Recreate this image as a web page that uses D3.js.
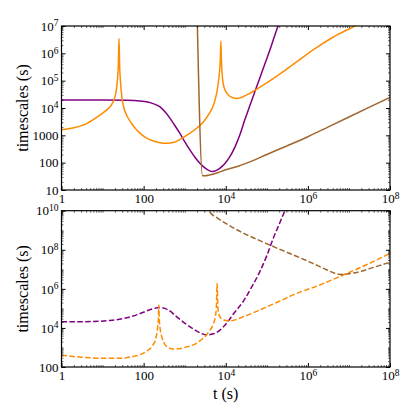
<!DOCTYPE html>
<html>
<head>
<meta charset="utf-8">
<script src="https://cdn.jsdelivr.net/npm/d3@7"></script>
<style>
  body { margin: 0; background: #fff; }
  svg text { font-family: "Liberation Serif", "Times New Roman", "DejaVu Serif", serif; }
</style>
</head>
<body>
<svg id="chart" width="415" height="416"></svg>
<script>
// Values, in decades: [log10 t, log10 timescale]
const purpleSolid = [[0, 4.29], [1, 4.29], [1.6, 4.28], [1.9, 4.26], [2.1, 4.22], [2.25, 4.15], [2.4, 4.04],
  [2.52, 3.86], [2.64, 3.63], [2.76, 3.36], [2.88, 3.08], [3.0, 2.77], [3.13, 2.46], [3.25, 2.2], [3.37, 1.98],
  [3.5, 1.8], [3.61, 1.7], [3.68, 1.68], [3.76, 1.71], [3.86, 1.8], [3.98, 1.97], [4.1, 2.22], [4.22, 2.56],
  [4.34, 3.0], [4.46, 3.55], [4.59, 4.1], [4.71, 4.6], [4.83, 5.1], [4.95, 5.6], [5.07, 6.1], [5.17, 6.55],
  [5.27, 7.0], [5.35, 7.4]]

const orangeSolid = [[0, 3.2], [0.3, 3.28], [0.6, 3.42], [0.9, 3.7], [1.1, 3.93], [1.2, 4.08], [1.3, 4.4],
  [1.36, 5.0], [1.385, 5.6], [1.4, 6.55], [1.415, 5.6], [1.44, 4.9], [1.47, 4.4], [1.52, 4.0], [1.6, 3.7],
  [1.7, 3.45], [1.8, 3.25], [1.91, 3.08], [2.05, 2.92], [2.2, 2.81], [2.4, 2.73], [2.56, 2.71], [2.75, 2.75],
  [2.9, 2.86], [3.1, 3.05], [3.3, 3.27], [3.45, 3.48], [3.6, 3.8], [3.7, 4.1], [3.78, 4.55], [3.84, 5.2],
  [3.865, 5.7], [3.88, 6.45], [3.895, 5.7], [3.92, 5.1], [3.96, 4.75], [4.05, 4.5], [4.15, 4.39], [4.26, 4.35],
  [4.4, 4.4], [4.6, 4.55], [5.0, 4.92], [5.4, 5.33], [5.8, 5.77], [6.2, 6.2], [6.6, 6.58], [7.14, 7.0], [7.6, 7.4]]

const brownSolid = [[3.3, 7.6], [3.435, 1.52], [3.5, 1.52], [3.6, 1.55], [3.8, 1.63], [4.0, 1.74], [4.3, 1.87],
  [4.6, 2.04], [5.0, 2.3], [5.5, 2.62], [6.0, 2.95], [6.5, 3.31], [7.0, 3.67], [7.5, 4.03], [8.0, 4.39]]

const purpleDashed = [[0, 4.32], [0.5, 4.32], [0.9, 4.34], [1.18, 4.38], [1.59, 4.52], [1.9, 4.72], [2.15, 4.93],
  [2.4, 5.04], [2.6, 4.92], [2.8, 4.58], [3.0, 4.25], [3.21, 3.95], [3.4, 3.72], [3.53, 3.64], [3.7, 3.7],
  [3.86, 3.89], [4.02, 4.24], [4.2, 4.75], [4.42, 5.34], [4.62, 6.05], [4.83, 6.88], [5.0, 7.7], [5.15, 8.55],
  [5.3, 9.3], [5.44, 10.0], [5.5, 10.3]]

const orangeDashed = [[0, 2.6], [0.5, 2.5], [1.0, 2.45], [1.42, 2.45], [1.7, 2.52], [1.91, 2.63], [2.1, 2.85],
  [2.22, 3.1], [2.3, 3.5], [2.34, 4.0], [2.36, 4.5], [2.37, 5.17], [2.38, 4.5], [2.4, 4.0], [2.45, 3.5],
  [2.52, 3.15], [2.6, 3.0], [2.72, 2.92], [2.9, 2.95], [3.05, 3.03], [3.21, 3.13], [3.38, 3.35], [3.53, 3.64],
  [3.62, 3.9], [3.69, 4.15], [3.74, 4.5], [3.77, 5.0], [3.79, 6.28], [3.81, 5.0], [3.85, 4.6], [3.94, 4.41],
  [4.1, 4.36], [4.4, 4.55], [4.83, 4.92], [5.24, 5.3], [5.64, 5.69], [6.29, 6.2], [6.98, 6.82], [7.5, 7.3],
  [8.0, 7.82]]

const brownDashed = [[3.55, 10.3], [3.61, 9.95], [3.8, 9.62], [4.02, 9.33], [4.42, 8.86], [4.83, 8.47],
  [5.23, 8.1], [5.64, 7.74], [6.05, 7.37], [6.45, 6.98], [6.65, 6.8], [6.78, 6.74], [6.95, 6.76],
  [7.26, 6.88], [7.6, 7.1], [8.0, 7.36]]

const xTicks = [1, 100, 1e4, 1e6, 1e8]
const topYTicks = [10, 100, 1000, 1e4, 1e5, 1e6, 1e7]
const bottomYTicks = [100, 1e4, 1e6, 1e8, 1e10]

const colors = { purple: '#800080', orange: '#ff8c00', brown: '#a0652d' }
const serif = '"Liberation Serif", "Times New Roman", "DejaVu Serif", serif'

const svg = d3.select('#chart')
const left = 61.5
const right = 390
const x = d3.scaleLog().domain([1, 1e8]).range([left, right])

// minor ticks at 2..9 x 10^k inside the domain
function minorTicks (domain, majors) {
  const out = []
  const lo = Math.round(Math.log10(domain[0]))
  const hi = Math.round(Math.log10(domain[1]))
  for (let k = lo; k < hi; k++) {
    for (let m = 1; m < 10; m++) {
      const v = m * Math.pow(10, k)
      if (majors.indexOf(v) < 0) out.push(v)
    }
  }
  return out
}

// "10" with a raised exponent for the big values
function labelTicks (sel) {
  sel.attr('font-family', serif).attr('font-size', 13)
  sel.selectAll('.tick text').each(function (d) {
    const t = d3.select(this)
    t.text(null)
    if (d <= 1000) {
      t.text(d3.format('d')(d))
      return
    }
    t.append('tspan').text('10')
    t.append('tspan')
      .attr('dy', '-0.45em')
      .attr('font-size', 9.5)
      .text(Math.round(Math.log10(d)))
  })
}

function drawPanel (id, top, bottom, yDomain, yTicks, series) {
  const y = d3.scaleLog().domain(yDomain).range([bottom, top])
  const g = svg.append('g')

  g.append('clipPath')
    .attr('id', 'clip-' + id)
    .append('rect')
    .attr('x', left).attr('y', top)
    .attr('width', right - left).attr('height', bottom - top)

  const line = d3.line()
    .curve(d3.curveMonotoneX)
    .x(function (d) { return x(Math.pow(10, d[0])) })
    .y(function (d) { return y(Math.pow(10, d[1])) })

  g.append('g')
    .attr('clip-path', 'url(#clip-' + id + ')')
    .selectAll('path')
    .data(series)
    .enter().append('path')
    .attr('d', function (d) { return line(d.values) })
    .attr('fill', 'none')
    .attr('stroke', function (d) { return d.color })
    .attr('stroke-width', 1.5)
    .attr('stroke-dasharray', function (d) { return d.dashed ? '5.5,2.4' : null })

  const xMinor = minorTicks(x.domain(), xTicks)
  const yMinor = minorTicks(yDomain, yTicks)

  // minor ticks on all four sides, pointing inward
  const minor = [
    [d3.axisBottom(x).tickValues(xMinor), `translate(0,${bottom})`],
    [d3.axisTop(x).tickValues(xMinor), `translate(0,${top})`],
    [d3.axisLeft(y).tickValues(yMinor), `translate(${left},0)`],
    [d3.axisRight(y).tickValues(yMinor), `translate(${right},0)`]
  ]
  minor.forEach(function (m) {
    g.append('g')
      .attr('transform', m[1])
      .call(m[0].tickSizeInner(-2).tickSizeOuter(0).tickFormat(''))
      .call(function (s) { s.select('.domain').remove() })
      .selectAll('line').attr('stroke-width', 0.6)
  })

  // major ticks
  g.append('g')
    .attr('transform', `translate(0,${bottom})`)
    .call(d3.axisBottom(x).tickValues(xTicks).tickSizeInner(-4).tickSizeOuter(0).tickPadding(4))
    .call(labelTicks)
  g.append('g')
    .attr('transform', `translate(0,${top})`)
    .call(d3.axisTop(x).tickValues(xTicks).tickSizeInner(-4).tickSizeOuter(0).tickFormat(''))
  g.append('g')
    .attr('transform', `translate(${left},0)`)
    .call(d3.axisLeft(y).tickValues(yTicks).tickSizeInner(-4).tickSizeOuter(0).tickPadding(3))
    .call(labelTicks)
  g.append('g')
    .attr('transform', `translate(${right},0)`)
    .call(d3.axisRight(y).tickValues(yTicks).tickSizeInner(-4).tickSizeOuter(0).tickFormat(''))

  g.selectAll('.domain').remove()
  g.selectAll('.tick text').attr('fill', '#000')

  // frame
  g.append('rect')
    .attr('x', left).attr('y', top)
    .attr('width', right - left).attr('height', bottom - top)
    .attr('fill', 'none')
    .attr('stroke', '#000')
    .attr('stroke-width', 1.2)

  g.append('text')
    .attr('transform', `translate(28,${(top + bottom) / 2}) rotate(-90)`)
    .attr('text-anchor', 'middle')
    .attr('font-family', serif)
    .attr('font-size', 16)
    .text('timescales (s)')
}

drawPanel('top', 26, 190, [10, 1e7], topYTicks, [
  { values: purpleSolid, color: colors.purple },
  { values: orangeSolid, color: colors.orange },
  { values: brownSolid, color: colors.brown }
])

drawPanel('bottom', 210.7, 367, [100, 1e10], bottomYTicks, [
  { values: purpleDashed, color: colors.purple, dashed: true },
  { values: orangeDashed, color: colors.orange, dashed: true },
  { values: brownDashed, color: colors.brown, dashed: true }
])

svg.append('text')
  .attr('x', (left + right) / 2)
  .attr('y', 399)
  .attr('text-anchor', 'middle')
  .attr('font-family', serif)
  .attr('font-size', 16)
  .text('t (s)')
</script>
</body>
</html>
